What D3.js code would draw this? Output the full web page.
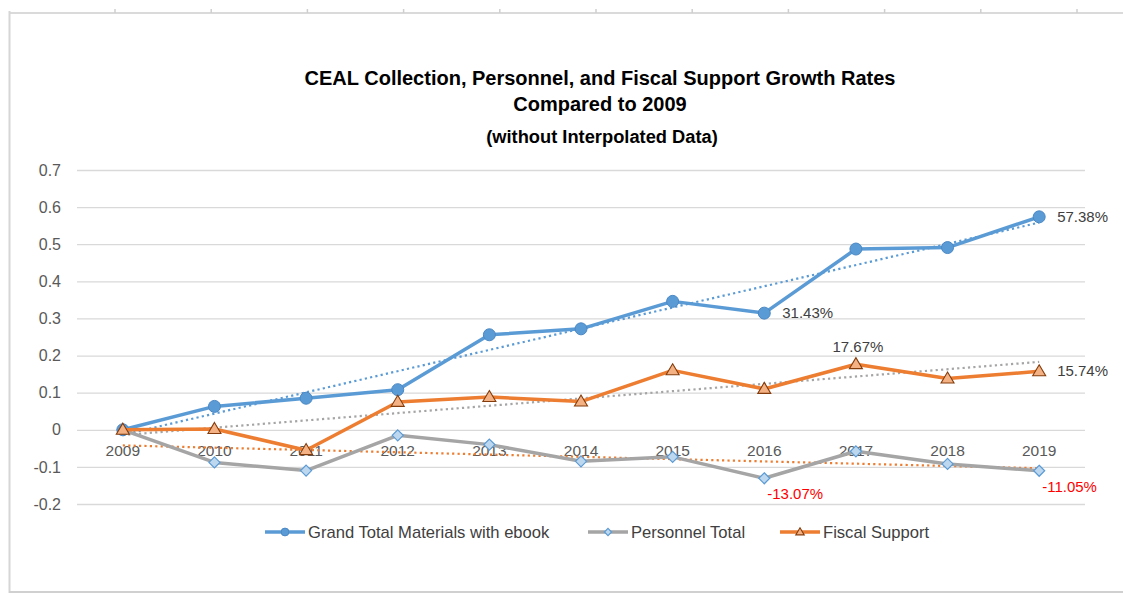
<!DOCTYPE html>
<html><head><meta charset="utf-8">
<script src="https://cdn.jsdelivr.net/npm/d3@7"></script>
<style>
body{margin:0;background:#fff;}
svg{display:block;font-family:"Liberation Sans",Arial,sans-serif;}
</style>
</head><body>
<svg id="chart" width="1123" height="593"></svg>
<script>
// ---------- DATA ----------
const years = ["2009","2010","2011","2012","2013","2014","2015","2016","2017","2018","2019"];
const grandTotal = [0, 0.063, 0.085, 0.108, 0.256, 0.272, 0.346, 0.3143, 0.487, 0.491, 0.5738];
const personnel  = [0, -0.088, -0.110, -0.015, -0.040, -0.085, -0.073, -0.1307, -0.058, -0.092, -0.1105];
const fiscal     = [0, 0.002, -0.055, 0.075, 0.088, 0.076, 0.160, 0.110, 0.1767, 0.138, 0.1574];
const seriesNames = ["Grand Total Materials with ebook", "Personnel Total", "Fiscal Support"];
const yTicks = [0.7, 0.6, 0.5, 0.4, 0.3, 0.2, 0.1, 0, -0.1, -0.2];
const titleLines = ["CEAL Collection, Personnel, and Fiscal Support Growth Rates", "Compared to 2009"];
const subtitle = "(without Interpolated Data)";
const dataLabels = [
  {series: 0, index: 10, text: "57.38%", place: "right", red: false},
  {series: 0, index: 7,  text: "31.43%", place: "right", red: false},
  {series: 2, index: 8,  text: "17.67%", place: "above", red: false},
  {series: 2, index: 10, text: "15.74%", place: "right", red: false},
  {series: 1, index: 7,  text: "-13.07%", place: "below", red: true},
  {series: 1, index: 10, text: "-11.05%", place: "below", red: true}
];

// ---------- SETUP ----------
const svg = d3.select("#chart");
const W = 1123, H = 593;
const plot = {left: 77, right: 1085, top: 170, bottom: 504};
const FONT = "Liberation Sans, Arial, sans-serif";

const seriesVals = [grandTotal, personnel, fiscal];
const colors = ["#5b9bd5", "#a5a5a5", "#ed7d31"];
// trendline colours as shown in the picture (fiscal trend grey, personnel trend orange)
const trendColors = ["#5b9bd5", "#ed7d31", "#a5a5a5"];

const xBand = d3.scaleBand().domain(years).range([plot.left, plot.right]);
const x = d => xBand(d) + xBand.bandwidth() / 2;
const y = d3.scaleLinear().domain([-0.2, 0.7]).range([plot.bottom, plot.top]);

// ---------- FRAME ----------
const frame = svg.append("g");
frame.append("line").attr("x1", 9).attr("x2", W).attr("y1", 13).attr("y2", 13)
  .attr("stroke", "#dadada").attr("stroke-width", 2);
frame.selectAll("line.tk").data(d3.range(115, W, 96.2)).enter().append("line")
  .attr("class", "tk").attr("x1", d => d).attr("x2", d => d).attr("y1", 9).attr("y2", 13)
  .attr("stroke", "#cfcfcf").attr("stroke-width", 1.5);
frame.append("line").attr("x1", 9.5).attr("x2", 9.5).attr("y1", 11).attr("y2", H)
  .attr("stroke", "#d6d6d6").attr("stroke-width", 2);
frame.append("line").attr("x1", 9).attr("x2", W).attr("y1", 592).attr("y2", 592)
  .attr("stroke", "#d0d0d0").attr("stroke-width", 2);

// ---------- TITLE ----------
const tg = svg.append("g").attr("text-anchor", "middle").attr("fill", "#000").attr("font-weight", "bold");
tg.selectAll("text.t").data(titleLines).enter().append("text").attr("class", "t")
  .attr("x", 600).attr("y", (d, i) => 85 + i * 26).attr("font-size", 20).text(d => d);
tg.append("text").attr("x", 602).attr("y", 143).attr("font-size", 18.3).text(subtitle);

// ---------- GRID + Y AXIS ----------
const yAxis = d3.axisLeft(y).tickValues(yTicks).tickSize(-(plot.right - plot.left))
  .tickFormat(d => String(+d.toFixed(1)));
const gy = svg.append("g").attr("transform", `translate(${plot.left},0)`).call(yAxis);
gy.select(".domain").remove();
gy.selectAll(".tick line").attr("stroke", "#d9d9d9").attr("stroke-width", 1.3);
gy.selectAll(".tick text").attr("x", -16).attr("fill", "#595959")
  .attr("font-size", 16).attr("font-family", FONT);

// ---------- X AXIS LABELS (at zero line) ----------
const xAxis = d3.axisBottom(xBand).tickSize(0);
const gx = svg.append("g").attr("transform", `translate(0,${y(0)})`).call(xAxis);
gx.select(".domain").remove();
gx.selectAll(".tick text").attr("y", 15).attr("fill", "#595959")
  .attr("font-size", 15.5).attr("font-family", FONT);

// ---------- TRENDLINES ----------
function linreg(vals) {
  const n = vals.length, xs = d3.range(n);
  const mx = d3.mean(xs), my = d3.mean(vals);
  const b = d3.sum(xs, i => (i - mx) * (vals[i] - my)) / d3.sum(xs, i => (i - mx) ** 2);
  return i => my + b * (i - mx);
}
const trendG = svg.append("g");
seriesVals.forEach((vals, s) => {
  const f = linreg(vals);
  const n = vals.length - 1;
  trendG.append("line")
    .attr("x1", x(years[0])).attr("y1", y(f(0)))
    .attr("x2", x(years[n])).attr("y2", y(f(n)))
    .attr("stroke", trendColors[s]).attr("stroke-width", 2.2)
    .attr("stroke-dasharray", "2.2,3.2");
});

// ---------- SERIES ----------
const line = d3.line().x((d, i) => x(years[i])).y(d => y(d));

function drawMarker(g, s, px, py, k) {
  if (s === 0) {
    g.append("circle").attr("cx", px).attr("cy", py).attr("r", 6 * k)
      .attr("fill", "#5b9bd5").attr("stroke", "#4a88c5").attr("stroke-width", 1);
  } else if (s === 1) {
    const r = 5.5 * k;
    g.append("path").attr("d", `M0,${-r}L${r},0L0,${r}L${-r},0Z`)
      .attr("transform", `translate(${px},${py})`)
      .attr("fill", "#bdd7ee").attr("stroke", "#5b9bd5").attr("stroke-width", 1.2);
  } else {
    const hw = 6.5 * k, h = 11 * k;
    g.append("path").attr("d", `M0,${-h * 0.6}L${hw},${h * 0.4}L${-hw},${h * 0.4}Z`)
      .attr("transform", `translate(${px},${py})`)
      .attr("fill", "#f4b183").attr("stroke", "#843c0c").attr("stroke-width", 1.1);
  }
}

[1, 0, 2].forEach(s => {
  const vals = seriesVals[s];
  const g = svg.append("g");
  g.append("path").datum(vals).attr("d", line).attr("fill", "none")
    .attr("stroke", colors[s]).attr("stroke-width", 3.5).attr("stroke-linejoin", "round");
  vals.forEach((v, i) => drawMarker(g, s, x(years[i]), y(v), 1));
});

// ---------- DATA LABELS ----------
const lg = svg.append("g").attr("font-size", 15);
dataLabels.forEach(d => {
  const px = x(years[d.index]), py = y(seriesVals[d.series][d.index]);
  const t = lg.append("text").text(d.text).attr("fill", d.red ? "#ff0000" : "#404040");
  if (d.place === "right") t.attr("x", px + 18).attr("y", py + 5);
  else if (d.place === "above") t.attr("x", px + 2).attr("y", py - 12).attr("text-anchor", "middle");
  else t.attr("x", px + 3).attr("y", py + 21);
});

// ---------- LEGEND ----------
const legendPos = [{x: 265, tx: 308}, {x: 588, tx: 631}, {x: 780, tx: 823}];
const leg = svg.append("g");
seriesNames.forEach((name, s) => {
  const p = legendPos[s], ly = 532;
  leg.append("line").attr("x1", p.x).attr("x2", p.x + 40).attr("y1", ly).attr("y2", ly)
    .attr("stroke", colors[s]).attr("stroke-width", 3.5);
  drawMarker(leg, s, p.x + 20, ly, 0.65);
  leg.append("text").attr("x", p.tx).attr("y", ly + 5.5).attr("fill", "#404040")
    .attr("font-size", 16.6).text(name);
});
</script>
</body></html>
